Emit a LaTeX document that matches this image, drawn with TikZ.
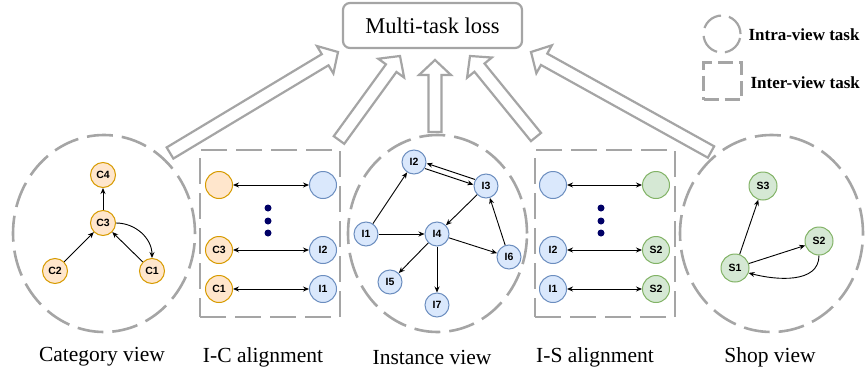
\documentclass[tikz,border=0pt]{standalone}
\usepackage{fontspec}
\setmainfont{Liberation Serif}
\newfontfamily\nodefont{Liberation Sans}
\usetikzlibrary{calc,arrows.meta,shapes.geometric}
\definecolor{dgray}{RGB}{165,165,165}
\definecolor{ofill}{HTML}{FFE6CC}\definecolor{odraw}{HTML}{D79B00}
\definecolor{bfill}{HTML}{DAE8FC}\definecolor{bdraw}{HTML}{6C8EBF}
\definecolor{gfill}{HTML}{D5E8D4}\definecolor{gdraw}{HTML}{82B366}
\definecolor{dotnavy}{HTML}{000066}
\newcommand{\hollowarrow}[2]{%
  \coordinate (ha-h) at ($(#2)!15pt!(#1)$);
  \draw[blockarr] ($(#1)!6.5pt!90:(#2)$) -- ($(ha-h)!6.5pt!90:(#2)$) -- ($(ha-h)!16pt!90:(#2)$) -- (#2)
    -- ($(ha-h)!16pt!-90:(#2)$) -- ($(ha-h)!6.5pt!-90:(#2)$) -- ($(#1)!6.5pt!-90:(#2)$) -- cycle;}
\begin{document}
\begin{tikzpicture}[x=1pt,y=-1pt,
  dashview/.style={draw=dgray,line width=2.6pt,dash pattern=on 26pt off 9pt},
  vnode/.style={circle,inner sep=0pt,line width=1pt,font=\nodefont\bfseries\fontsize{10.5}{12}\selectfont},
  cnode/.style={vnode,fill=ofill,draw=odraw,minimum size=25pt},
  inode/.style={vnode,fill=bfill,draw=bdraw,minimum size=24pt},
  snode/.style={vnode,fill=gfill,draw=gdraw,minimum size=28pt},
  acnode/.style={vnode,fill=ofill,draw=odraw,minimum size=27pt},
  ainode/.style={vnode,fill=bfill,draw=bdraw,minimum size=27pt},
  asnode/.style={vnode,fill=gfill,draw=gdraw,minimum size=27pt},
  dotn/.style={circle,fill=dotnavy,inner sep=0pt,minimum size=7pt},
  arr/.style={-{Stealth[length=6pt,width=5pt]},line width=0.9pt},
  darr/.style={{Stealth[length=6pt,width=5pt]}-{Stealth[length=6pt,width=5pt]},line width=0.9pt},
  blockarr/.style={draw=dgray,line width=2.2pt,fill=white,line join=miter},
  viewlabel/.style={font=\fontsize{21.5}{25}\selectfont},
  legendtext/.style={anchor=west,font=\bfseries\fontsize{17}{20}\selectfont}]
\useasboundingbox (0,0) rectangle (865,375);

% views
\node[dashview,ellipse,minimum width=182pt,minimum height=197pt] (catview) at (104,233.5) {};
\node[dashview,ellipse,minimum width=179pt,minimum height=197pt] (insview) at (437.5,233.5) {};
\node[dashview,ellipse,minimum width=183pt,minimum height=197pt] (shopview) at (771.5,233.5) {};
\node[dashview,rectangle,minimum width=140pt,minimum height=167pt] (icbox) at (270,233.5) {};
\node[dashview,rectangle,minimum width=140pt,minimum height=167pt] (isbox) at (605,233.5) {};

% loss box
\node[draw=dgray,line width=2.2pt,rounded corners=7pt,minimum width=179pt,minimum height=45pt,
  font=\fontsize{22.5}{26}\selectfont] (loss) at (432.5,25.5) {Multi-task loss};

% block arrows
\coordinate (t1) at (170,153); \coordinate (h1) at (338,52);
\coordinate (t2) at (339,140); \coordinate (h2) at (400,56);
\coordinate (t3) at (435,132); \coordinate (h3) at (435,60);
\coordinate (t4) at (536,137); \coordinate (h4) at (470,56);
\coordinate (t5) at (711,152); \coordinate (h5) at (531,52);
\hollowarrow{t1}{h1}
\hollowarrow{t2}{h2}
\hollowarrow{t3}{h3}
\hollowarrow{t4}{h4}
\hollowarrow{t5}{h5}

% category view
\node[cnode] (C4) at (103,175) {C4};
\node[cnode] (C3) at (103,223) {C3};
\node[cnode] (C2) at (55,271) {C2};
\node[cnode] (C1) at (152,271) {C1};
\draw[arr] (C3) -- (C4);
\draw[arr] (C2) -- (C3);
\draw[arr] (C1) -- (C3);
\draw[arr] (C3.east) to[out=0,in=90] (C1.north);

% I-C alignment
\node[acnode] (ac0) at (219,185) {};
\node[ainode] (ai0) at (323,185) {};
\node[acnode] (ac3) at (219,250) {C3};
\node[ainode] (ai2) at (323,250) {I2};
\node[acnode] (ac1) at (219,289) {C1};
\node[ainode] (ai1) at (323,289) {I1};
\draw[darr] (ac0) -- (ai0);
\draw[darr] (ac3) -- (ai2);
\draw[darr] (ac1) -- (ai1);
\node[dotn] (icd1) at (268,208) {};
\node[dotn] (icd2) at (268,221) {};
\node[dotn] (icd3) at (268,233) {};

% instance view
\node[inode] (I2) at (414,162) {I2};
\node[inode] (I3) at (486,186) {I3};
\node[inode] (I1) at (366,234) {I1};
\node[inode] (I4) at (437,234) {I4};
\node[inode] (I6) at (509,257) {I6};
\node[inode] (I5) at (390,282) {I5};
\node[inode] (I7) at (437,305) {I7};
\draw[arr] (I1) -- (I2);
\draw[arr] (I1) -- (I4);
\draw[arr,transform canvas={shift={(0.8pt,2.6pt)}}] (I3) -- (I2);
\draw[arr,transform canvas={shift={(-0.8pt,-2.6pt)}}] (I2) -- (I3);
\draw[arr] (I3) -- (I4);
\draw[arr] (I6) -- (I3);
\draw[arr] (I4) -- (I6);
\draw[arr] (I4) -- (I5);
\draw[arr] (I4) -- (I7);

% I-S alignment
\node[ainode] (si0) at (553,185) {};
\node[asnode] (ss0) at (656,185) {};
\node[ainode] (si2) at (553,250) {I2};
\node[asnode] (ss2) at (656,250) {S2};
\node[ainode] (si1) at (553,289) {I1};
\node[asnode] (ss2b) at (656,289) {S2};
\draw[darr] (si0) -- (ss0);
\draw[darr] (si2) -- (ss2);
\draw[darr] (si1) -- (ss2b);
\node[dotn] (isd1) at (601,208) {};
\node[dotn] (isd2) at (601,221) {};
\node[dotn] (isd3) at (601,233) {};

% shop view
\node[snode] (S3) at (763,186) {S3};
\node[snode] (S2) at (819,241) {S2};
\node[snode] (S1) at (735,268) {S1};
\draw[arr] (S1) -- (S3);
\draw[arr] (S1) -- (S2);
\draw[arr] (S2.south) to[out=-90,in=-15] (S1.-20);

% labels
\node[viewlabel] (lcat) at (102,357) {Category view};
\node[viewlabel] (lic) at (263,357) {I-C alignment};
\node[viewlabel] (lins) at (432,357) {Instance view};
\node[viewlabel] (lis) at (595,357) {I-S alignment};
\node[viewlabel] (lshop) at (770,357) {Shop view};

% legend
\node[dashview,circle,line width=2.2pt,minimum size=37pt,dash pattern=on 22pt off 8pt] (legc) at (722,34) {};
\node[dashview,rectangle,line width=2.2pt,minimum width=38pt,minimum height=37pt,dash pattern=on 15pt off 6pt] (legr) at (722.5,81) {};
\node[legendtext] (legct) at (745,35) {Intra-view task};
\node[legendtext] (legrt) at (747,83) {Inter-view task};
\end{tikzpicture}
\end{document}
